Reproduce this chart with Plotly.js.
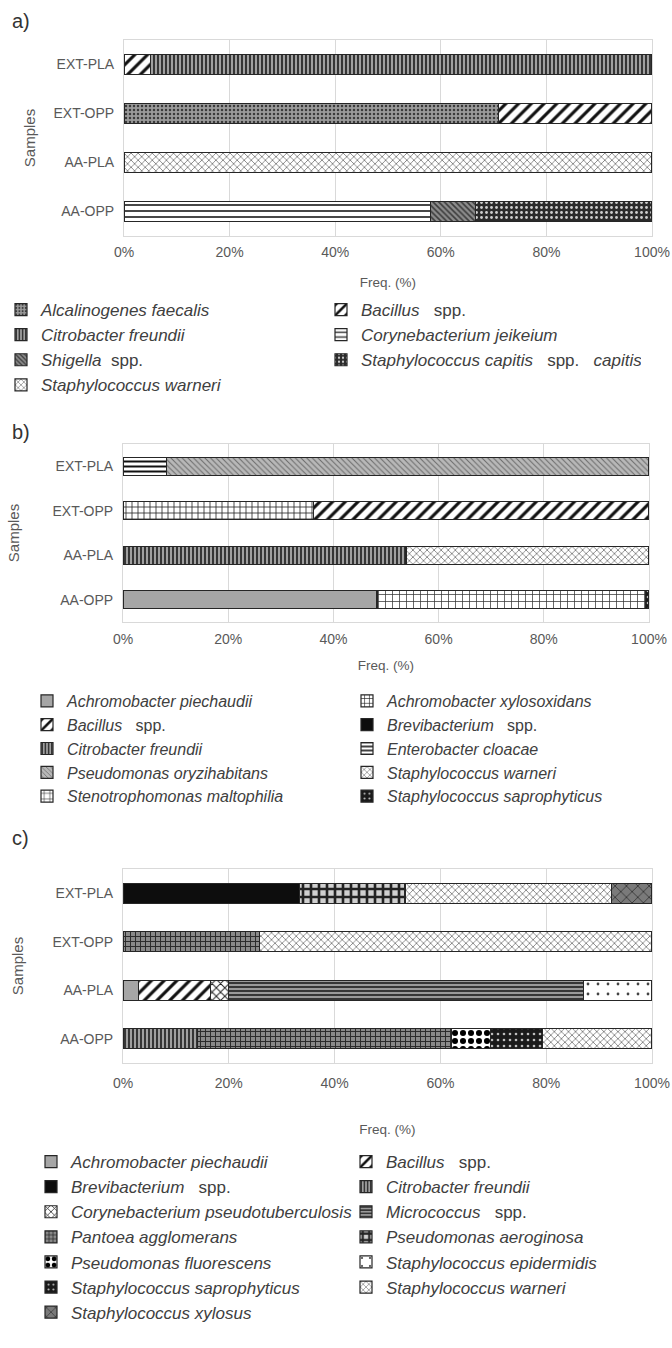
<!DOCTYPE html>
<html>
<head>
<meta charset="utf-8">
<script src="https://cdn.plot.ly/plotly-3.0.1.min.js"></script>
<style>html,body{margin:0;padding:0;background:#fff;}#chart{width:672px;height:1348px;}</style>
</head>
<body>
<div id="chart"></div>
<script>
// ---------- DATA ----------
const samples = ['AA-OPP', 'AA-PLA', 'EXT-OPP', 'EXT-PLA'];
const xTickVals = [0, 20, 40, 60, 80, 100];
const xTickText = ['0%', '20%', '40%', '60%', '80%', '100%'];

// Panel a) — values in % for [AA-OPP, AA-PLA, EXT-OPP, EXT-PLA]
const aSpecies = ['Alcalinogenes faecalis', 'Bacillus spp.', 'Citrobacter freundii', 'Corynebacterium jeikeium',
  'Shigella spp.', 'Staphylococcus capitis spp. capitis', 'Staphylococcus warneri'];
const aAlcalinogenes = [0, 0, 71, 0];
const aBacillus = [0, 0, 29, 5];
const aCitrobacter = [0, 0, 0, 95];
const aCorynebacterium = [58, 0, 0, 0];
const aShigella = [8.5, 0, 0, 0];
const aStaphCapitis = [33.5, 0, 0, 0];
const aStaphWarneri = [0, 100, 0, 0];

// Panel b)
const bSpecies = ['Achromobacter piechaudii', 'Achromobacter xylosoxidans', 'Bacillus spp.', 'Brevibacterium spp.',
  'Citrobacter freundii', 'Enterobacter cloacae', 'Pseudomonas oryzihabitans', 'Staphylococcus warneri',
  'Stenotrophomonas maltophilia', 'Staphylococcus saprophyticus'];
const bAchroPiechaudii = [48.3, 0, 0, 0];
const bAchroXylosoxidans = [0, 0, 36.2, 0];
const bBacillus = [0, 0, 63.8, 0];
const bBrevibacterium = [0, 0, 0, 0];
const bCitrobacter = [0, 53.8, 0, 0];
const bEnterobacter = [0, 0, 0, 8.3];
const bPseudoOryzihabitans = [0, 0, 0, 91.7];
const bStaphWarneri = [0, 46.2, 0, 0];
const bStenotrophomonas = [51, 0, 0, 0];
const bStaphSaprophyticus = [0.7, 0, 0, 0];

// Panel c)
const cSpecies = ['Achromobacter piechaudii', 'Bacillus spp.', 'Brevibacterium spp.', 'Citrobacter freundii',
  'Corynebacterium pseudotuberculosis', 'Micrococcus spp.', 'Pantoea agglomerans', 'Pseudomonas aeroginosa',
  'Pseudomonas fluorescens', 'Staphylococcus epidermidis', 'Staphylococcus saprophyticus',
  'Staphylococcus warneri', 'Staphylococcus xylosus'];
const cAchroPiechaudii = [0, 3, 0, 0];
const cBacillus = [0, 13.6, 0, 0];
const cBrevibacterium = [0, 0, 0, 33.3];
const cCitrobacter = [14.1, 0, 0, 0];
const cCorynePseudotb = [0, 3.4, 0, 0];
const cMicrococcus = [0, 67, 0, 0];
const cPantoea = [48, 0, 25.8, 0];
const cPseudoAeroginosa = [0, 0, 0, 20];
const cPseudoFluorescens = [7.4, 0, 0, 0];
const cStaphEpidermidis = [0, 13, 0, 0];
const cStaphSaprophyticus = [9.8, 0, 0, 0];
const cStaphWarneri = [20.7, 0, 74.2, 39];
const cStaphXylosus = [0, 0, 0, 7.7];

// ---------- STYLES ----------
const NB = '\u00a0';
const labelHTML = {
  'Bacillus spp.': '<i>Bacillus</i>' + NB + NB + ' spp.',
  'Brevibacterium spp.': '<i>Brevibacterium</i>' + NB + NB + ' spp.',
  'Shigella spp.': '<i>Shigella</i>' + NB + ' spp.',
  'Micrococcus spp.': '<i>Micrococcus</i>' + NB + NB + ' spp.',
  'Staphylococcus capitis spp. capitis': '<i>Staphylococcus capitis</i>' + NB + NB + ' spp.' + NB + NB + ' <i>capitis</i>'
};
function lbl(n) { return labelHTML[n] || ('<i>' + n + '</i>'); }

const pat = {
  'Alcalinogenes faecalis': {bg: '#9a9a9a', fg: '#3a3a3a', shape: '.', size: 4, sol: 0.3},
  'Bacillus spp.': {bg: '#ffffff', fg: '#111111', shape: '/', size: 9, sol: 0.35},
  'Citrobacter freundii': {bg: '#a0a0a0', fg: '#1a1a1a', shape: '|', size: 4, sol: 0.4},
  'Corynebacterium jeikeium': {bg: '#ffffff', fg: '#333333', shape: '-', size: 6, sol: 0.3},
  'Shigella spp.': {bg: '#8c8c8c', fg: '#3c3c3c', shape: '\\', size: 4, sol: 0.4},
  'Staphylococcus capitis spp. capitis': {bg: '#2a2a2a', fg: '#cfcfcf', shape: '.', size: 5, sol: 0.25},
  'Staphylococcus warneri': {bg: '#ffffff', fg: '#444444', shape: 'x', size: 5, sol: 0.22},
  'Achromobacter piechaudii': {bg: '#a6a6a6', fg: '#a6a6a6', shape: '', size: 6, sol: 0.3},
  'Achromobacter xylosoxidans': {bg: '#ffffff', fg: '#222222', shape: '+', size: 6, sol: 0.25},
  'Brevibacterium spp.': {bg: '#0d0d0d', fg: '#0d0d0d', shape: '', size: 6, sol: 0.3},
  'Enterobacter cloacae': {bg: '#ffffff', fg: '#111111', shape: '-', size: 5, sol: 0.4},
  'Pseudomonas oryzihabitans': {bg: '#b8b8b8', fg: '#6a6a6a', shape: '\\', size: 4, sol: 0.25},
  'Stenotrophomonas maltophilia': {bg: '#ffffff', fg: '#333333', shape: '+', size: 7, sol: 0.2},
  'Staphylococcus saprophyticus': {bg: '#1a1a1a', fg: '#bdbdbd', shape: '.', size: 6, sol: 0.15},
  'Corynebacterium pseudotuberculosis': {bg: '#ffffff', fg: '#222222', shape: 'x', size: 6, sol: 0.3},
  'Micrococcus spp.': {bg: '#9a9a9a', fg: '#2a2a2a', shape: '-', size: 4, sol: 0.45},
  'Pantoea agglomerans': {bg: '#8a8a8a', fg: '#2a2a2a', shape: '+', size: 5, sol: 0.35},
  'Pseudomonas aeroginosa': {bg: '#d0d0d0', fg: '#222222', shape: '+', size: 8, sol: 0.55},
  'Pseudomonas fluorescens': {bg: '#ffffff', fg: '#000000', shape: '.', size: 8, sol: 0.45},
  'Staphylococcus epidermidis': {bg: '#ffffff', fg: '#444444', shape: '.', size: 10, sol: 0.06},
  'Staphylococcus xylosus': {bg: '#7a7a7a', fg: '#333333', shape: 'x', size: 8, sol: 0.2}
};

function mk(name, vals, n, legend) {
  const p = pat[name];
  return {
    type: 'bar', orientation: 'h', name: lbl(name), y: samples, x: vals,
    xaxis: 'x' + (n === 1 ? '' : n), yaxis: 'y' + (n === 1 ? '' : n), legend: legend,
    marker: {
      color: p.bg,
      line: {color: '#262626', width: 1.2},
      pattern: {shape: p.shape, fgcolor: p.fg, bgcolor: p.bg, size: p.size, solidity: p.sol, fillmode: 'replace'}
    },
    hoverinfo: 'x+name'
  };
}

const aVals = [aAlcalinogenes, aBacillus, aCitrobacter, aCorynebacterium, aShigella, aStaphCapitis, aStaphWarneri];
const bVals = [bAchroPiechaudii, bAchroXylosoxidans, bBacillus, bBrevibacterium, bCitrobacter, bEnterobacter,
  bPseudoOryzihabitans, bStaphWarneri, bStenotrophomonas, bStaphSaprophyticus];
const cVals = [cAchroPiechaudii, cBacillus, cBrevibacterium, cCitrobacter, cCorynePseudotb, cMicrococcus, cPantoea,
  cPseudoAeroginosa, cPseudoFluorescens, cStaphEpidermidis, cStaphSaprophyticus, cStaphWarneri, cStaphXylosus];

const data = [];
aSpecies.forEach((s, i) => data.push(mk(s, aVals[i], 1, 'legend')));
bSpecies.forEach((s, i) => data.push(mk(s, bVals[i], 2, 'legend2')));
cSpecies.forEach((s, i) => data.push(mk(s, cVals[i], 3, 'legend3')));

// ---------- LAYOUT ----------
const W = 672, H = 1348;
const px = x => x / W;
const py = y => 1 - y / H;
const FONT = 'Liberation Sans, Arial, sans-serif';
const GRAY = '#595959';

function xax(dom, standTick, standTitle) {
  return {
    domain: dom, range: [0, 100], tickvals: xTickVals, ticktext: xTickText,
    showgrid: true, gridcolor: '#d9d9d9', gridwidth: 1, zeroline: false,
    showline: true, linecolor: '#d9d9d9', mirror: true, ticks: '',
    ticklabelstandoff: standTick,
    tickfont: {family: FONT, size: 14, color: GRAY},
    title: {text: 'Freq. (%)', font: {family: FONT, size: 13.5, color: GRAY}, standoff: standTitle},
    fixedrange: true
  };
}
function yax(dom, anchor, standTitle) {
  return {
    domain: dom, anchor: anchor, type: 'category', showgrid: false, zeroline: false,
    showline: true, linecolor: '#d9d9d9', mirror: true, ticks: '',
    ticklabelstandoff: 6,
    tickfont: {family: FONT, size: 14, color: GRAY},
    title: {text: 'Samples', font: {family: FONT, size: 15, color: GRAY}, standoff: standTitle},
    fixedrange: true
  };
}
function leg(xpx, ytop, size, ew) {
  return {
    orientation: 'h', x: px(xpx), y: py(ytop), xanchor: 'left', yanchor: 'top',
    traceorder: 'normal', entrywidth: ew, entrywidthmode: 'pixels',
    font: {family: FONT, size: size, color: '#404040'},
    bgcolor: 'rgba(0,0,0,0)', borderwidth: 0
  };
}

const layout = {
  width: W, height: H, autosize: false,
  margin: {l: 0, r: 0, t: 0, b: 0},
  paper_bgcolor: '#ffffff', plot_bgcolor: '#ffffff',
  barmode: 'stack', bargap: 0.59,
  font: {family: FONT, color: GRAY},
  xaxis: Object.assign(xax([px(124), px(652)], 3, 18), {anchor: 'y'}),
  yaxis: yax([py(236), py(40)], 'x', 14),
  xaxis2: Object.assign(xax([px(123), px(649)], 4, 14), {anchor: 'y2'}),
  yaxis2: yax([py(622), py(444)], 'x2', 29),
  xaxis3: Object.assign(xax([px(123), px(652)], 7, 34), {anchor: 'y3'}),
  yaxis3: yax([py(1063), py(869)], 'x3', 25),
  legend: leg(1, 292, 17, 275),
  legend2: leg(27, 684, 16, 275),
  legend3: leg(31, 1144, 17, 270),
  showlegend: true,
  annotations: [
    {text: 'a)', x: px(10), y: py(21), xref: 'paper', yref: 'paper', xanchor: 'left', yanchor: 'middle', showarrow: false, font: {family: FONT, size: 20, color: '#333333'}},
    {text: 'b)', x: px(10), y: py(432), xref: 'paper', yref: 'paper', xanchor: 'left', yanchor: 'middle', showarrow: false, font: {family: FONT, size: 20, color: '#333333'}},
    {text: 'c)', x: px(10), y: py(838), xref: 'paper', yref: 'paper', xanchor: 'left', yanchor: 'middle', showarrow: false, font: {family: FONT, size: 20, color: '#333333'}}
  ]
};

Plotly.newPlot('chart', data, layout, {displayModeBar: false, responsive: false, staticPlot: true});
</script>
</body>
</html>
